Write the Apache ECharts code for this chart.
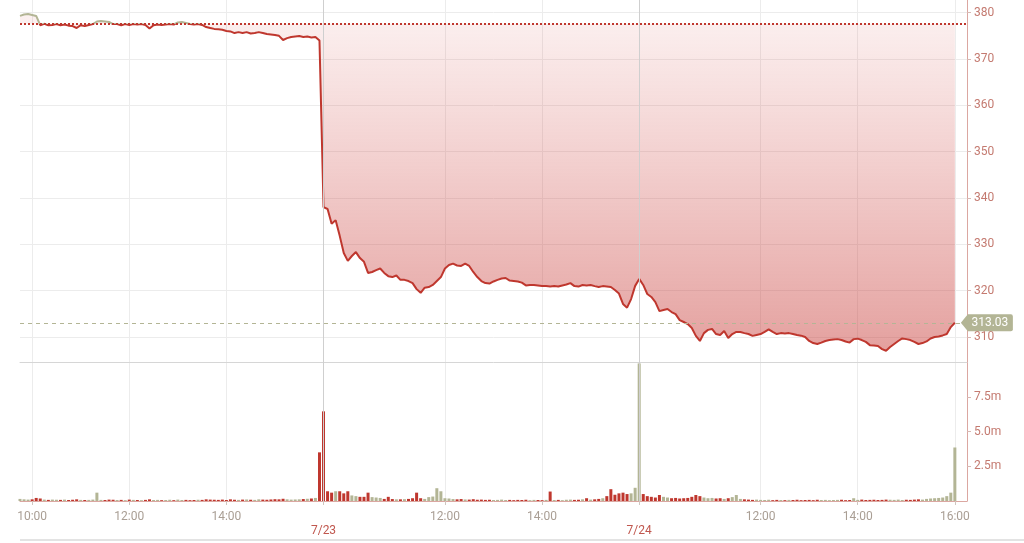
<!DOCTYPE html>
<html>
<head>
<meta charset="utf-8">
<script src="https://cdn.jsdelivr.net/npm/echarts@6/dist/echarts.min.js"></script>
<style>
  html, body { margin: 0; padding: 0; background: #fff; }
  #chart { width: 1024px; height: 543px; }
</style>
</head>
<body>
<div id="chart"></div>
<script>
// sessions (5 minute steps)
var days = ['7/22', '7/23', '7/24'];
var dayStart = ['09:45', '09:30', '09:30'];
var dayEnd = ['15:55', '15:55', '16:00'];
var padCats = ['7/24 16:05', '7/24 16:10', '7/24 16:15'];

// tick labels
var tickCats = ['7/22 10:00', '7/22 12:00', '7/22 14:00', '7/23 09:30', '7/23 12:00',
                '7/23 14:00', '7/24 09:30', '7/24 12:00', '7/24 14:00', '7/24 16:00'];
var tickTexts = ['10:00', '12:00', '14:00', '7/23', '12:00', '14:00', '7/24', '12:00', '14:00', '16:00'];
var dayCats = ['7/23 09:30', '7/24 09:30'];

var prevClose = 377.6;
var lastPrice = 313.03;

var day1Price = [379.3, 379.6, 379.7, 379.5, 379.3, 377.3, 377.6, 377.3, 377.35, 377.55,
  377.3, 377.45, 377.2, 377.1, 376.7, 377.3, 377.1, 377.35, 377.55, 378.1,
  378.2, 378.1, 378.0, 377.55, 377.55, 377.3, 377.55, 377.35, 377.55, 377.45,
  377.55, 377.35, 376.6, 377.3, 377.45, 377.35, 377.45, 377.55, 377.45, 377.9,
  378.0, 377.8, 377.55, 377.45, 377.55, 377.35, 376.9, 376.7, 376.5, 376.4,
  376.3, 376.05, 375.95, 375.6, 375.8, 375.6, 375.8, 375.5, 375.6, 375.8,
  375.6, 375.4, 375.3, 375.2, 375.0, 374.1, 374.5, 374.75, 374.85, 374.95,
  374.75, 374.85, 374.65, 374.75, 374.0];
var day2Price = [338.0, 337.6, 334.4, 335.2, 331.8, 328.1, 326.4, 327.45, 328.3, 327.0,
  326.2, 323.8, 324.0, 324.4, 324.75, 323.8, 323.1, 322.9, 323.25, 322.3,
  322.3, 322.05, 321.6, 320.3, 319.5, 320.6, 320.75, 321.2, 322.05, 322.9,
  324.75, 325.5, 325.8, 325.4, 325.3, 325.8, 325.3, 324.0, 322.9, 322.05,
  321.6, 321.5, 321.95, 322.3, 322.6, 322.7, 322.15, 322.05, 321.95, 321.7,
  321.1, 321.2, 321.2, 321.1, 320.95, 320.95, 320.85, 320.95, 320.85, 321.1,
  321.3, 321.6, 320.95, 320.85, 321.2, 321.1, 321.2, 320.95, 320.75, 320.95,
  320.85, 320.75, 320.1, 319.35, 317.1, 316.3, 318.15, 321.0];
var day3Price = [322.5, 321.2, 319.25, 318.6, 317.5, 315.55, 315.8, 316.0, 315.35, 314.9,
  313.6, 313.2, 312.75, 311.9, 310.2, 309.1, 310.8, 311.5, 311.7, 310.6,
  310.4, 311.25, 309.75, 310.6, 311.05, 311.05, 310.8, 310.6, 310.2, 310.4,
  310.6, 311.05, 311.6, 311.05, 310.6, 310.8, 310.7, 310.8, 310.6, 310.4,
  310.25, 309.95, 309.1, 308.65, 308.45, 308.75, 309.1, 309.3, 309.4, 309.5,
  309.3, 309.0, 308.75, 309.5, 309.6, 309.3, 308.9, 308.2, 308.1, 308.0,
  307.35, 307.0, 307.8, 308.45, 309.1, 309.65, 309.5, 309.3, 308.9, 308.45,
  308.65, 309.0, 309.65, 309.95, 310.05, 310.3, 310.6, 312.1, 313.03];

// volume in millions
var day1Vol = [0.15, 0.12, 0.1, 0.12, 0.22, 0.18, 0.1, 0.08, 0.1, 0.09,
  0.08, 0.1, 0.07, 0.09, 0.12, 0.08, 0.07, 0.08, 0.1, 0.6,
  0.08, 0.07, 0.1, 0.09, 0.07, 0.08, 0.06, 0.1, 0.08, 0.07,
  0.06, 0.08, 0.12, 0.07, 0.08, 0.06, 0.07, 0.09, 0.06, 0.1,
  0.07, 0.08, 0.06, 0.07, 0.09, 0.08, 0.12, 0.1, 0.09, 0.08,
  0.1, 0.07, 0.12, 0.09, 0.08, 0.1, 0.11, 0.09, 0.08, 0.12,
  0.1, 0.09, 0.11, 0.13, 0.12, 0.16, 0.12, 0.1, 0.11, 0.12,
  0.14, 0.16, 0.18, 0.22, 3.5];
var day2Vol = [6.45, 0.7, 0.6, 0.7, 0.7, 0.55, 0.7, 0.4, 0.35, 0.3,
  0.3, 0.6, 0.28, 0.25, 0.22, 0.15, 0.3, 0.14, 0.12, 0.12,
  0.13, 0.15, 0.2, 0.6, 0.2, 0.15, 0.28, 0.32, 0.92, 0.7,
  0.2, 0.18, 0.14, 0.12, 0.14, 0.11, 0.1, 0.13, 0.09, 0.1,
  0.08, 0.09, 0.07, 0.08, 0.1, 0.07, 0.08, 0.06, 0.08, 0.07,
  0.09, 0.06, 0.08, 0.07, 0.06, 0.08, 0.68, 0.07, 0.08, 0.06,
  0.09, 0.1, 0.08, 0.09, 0.12, 0.2, 0.1, 0.12, 0.15, 0.2,
  0.35, 0.85, 0.45, 0.55, 0.6, 0.5, 0.55, 0.95];
var day3Vol = [9.9, 0.5, 0.35, 0.3, 0.25, 0.43, 0.3, 0.25, 0.2, 0.22,
  0.18, 0.2, 0.22, 0.3, 0.43, 0.35, 0.25, 0.2, 0.22, 0.18,
  0.2, 0.15, 0.2, 0.28, 0.43, 0.15, 0.12, 0.1, 0.08, 0.1,
  0.08, 0.07, 0.09, 0.06, 0.08, 0.07, 0.06, 0.08, 0.07, 0.09,
  0.06, 0.07, 0.08, 0.06, 0.09, 0.07, 0.08, 0.06, 0.07, 0.08,
  0.09, 0.06, 0.07, 0.2, 0.08, 0.1, 0.07, 0.08, 0.09, 0.07,
  0.08, 0.1, 0.09, 0.08, 0.1, 0.07, 0.09, 0.08, 0.1, 0.12,
  0.1, 0.15, 0.18, 0.2, 0.22, 0.25, 0.35, 0.6, 3.85];

var red = '#bf372e';
var khaki = '#b3b595';
var font = 'Roboto, "Noto Sans", sans-serif';

function toMin(t) { var p = t.split(':'); return +p[0] * 60 + +p[1]; }
function pad(n) { return (n < 10 ? '0' : '') + n; }

var cats = [];
for (var d = 0; d < days.length; d++) {
  for (var m = toMin(dayStart[d]); m <= toMin(dayEnd[d]); m += 5) {
    cats.push(days[d] + ' ' + pad(Math.floor(m / 60)) + ':' + pad(m % 60));
  }
}
cats = cats.concat(padCats);

var price = day1Price.concat(day2Price, day3Price);
var vol = day1Vol.concat(day2Vol, day3Vol);

var volData = vol.map(function (v, i) {
  var before = i === 0 ? prevClose : price[i - 1];
  return { value: v, itemStyle: { color: price[i] >= before ? khaki : red } };
});

function isTick(idx, val) { return tickCats.indexOf(val) >= 0; }
function isDay(idx, val) { return dayCats.indexOf(val) >= 0; }

var dayLineStyle = { color: '#cfcfcf', width: 1, type: 'solid' };
function dayLineData() {
  return dayCats.map(function (c) { return { xAxis: c, lineStyle: dayLineStyle }; });
}

var chart = echarts.init(document.getElementById('chart'));

chart.setOption({
  animation: false,
  textStyle: { fontFamily: font },
  grid: [
    { left: 20, right: 57, top: 0, height: 362 },
    { left: 20, right: 57, top: 362, height: 139 }
  ],
  visualMap: {
    show: false, type: 'piecewise', seriesIndex: 0, dimension: 1,
    pieces: [
      { gt: 300, lte: prevClose, color: red },
      { gt: prevClose, lte: 400, color: khaki }
    ],
    outOfRange: { color: red }
  },
  xAxis: [
    {
      type: 'category', gridIndex: 0, data: cats, boundaryGap: false,
      axisLine: { show: true, lineStyle: { color: '#d6d6d6' } },
      axisTick: { show: false }, axisLabel: { show: false },
      splitLine: { show: true, interval: isTick, lineStyle: { color: '#ececec' } }
    },
    {
      type: 'category', gridIndex: 1, data: cats, boundaryGap: false,
      axisLine: { show: true, lineStyle: { color: '#dba7a1' } },
      axisTick: { show: true, interval: isTick, length: 4, lineStyle: { color: '#cfc6bf' } },
      splitLine: { show: true, interval: isTick, lineStyle: { color: '#ececec' } },
      axisLabel: {
        interval: isTick, margin: 9, color: '#a99e94', fontSize: 12,
        formatter: function (val) {
          var k = tickCats.indexOf(val);
          if (k < 0) return '';
          if (dayCats.indexOf(val) >= 0) return '\n{d|' + tickTexts[k] + '}';
          return tickTexts[k];
        },
        lineHeight: 14,
        rich: { d: { color: '#c0574e', fontSize: 12, lineHeight: 14 } }
      }
    },
    {
      type: 'category', gridIndex: 1, data: cats, boundaryGap: false,
      axisLine: { show: false }, axisLabel: { show: false },
      axisTick: { show: true, interval: isDay, length: 19, lineStyle: { color: '#bdbdbd', type: [2, 2] } }
    }
  ],
  yAxis: [
    {
      type: 'value', gridIndex: 0, position: 'right', min: 304.56, max: 382.74,
      axisLine: { show: true, lineStyle: { color: '#dba7a1' } },
      axisTick: { show: true, length: 4, customValues: [310, 320, 330, 340, 350, 360, 370, 380], lineStyle: { color: '#d8b8b3' } },
      axisLabel: { customValues: [310, 320, 330, 340, 350, 360, 370, 380], color: '#c47a70', fontSize: 12, margin: 7 },
      splitLine: { show: true, lineStyle: { color: '#ececec' } }
    },
    {
      type: 'value', gridIndex: 1, position: 'right', min: 0, max: 10,
      axisLine: { show: true, lineStyle: { color: '#dba7a1' } },
      axisTick: { show: true, length: 4, customValues: [2.5, 5, 7.5], lineStyle: { color: '#d8b8b3' } },
      axisLabel: {
        customValues: [2.5, 5, 7.5], color: '#c47a70', fontSize: 12, margin: 7,
        formatter: function (v) { return v.toFixed(1) + 'm'; }
      },
      splitLine: { show: false }
    }
  ],
  series: [
    {
      type: 'line', xAxisIndex: 0, yAxisIndex: 0, data: price,
      showSymbol: false, symbol: 'none',
      lineStyle: { width: 2 },
      areaStyle: {
        origin: prevClose,
        color: new echarts.graphic.LinearGradient(0, 0, 0, 1, [
          { offset: 0, color: 'rgba(212, 80, 76, 0.12)' },
          { offset: 1, color: 'rgba(198, 56, 52, 0.68)' }
        ])
      },
      markLine: {
        silent: true, symbol: ['none', 'none'], animation: false,
        label: { show: false },
        data: [
          { yAxis: prevClose, lineStyle: { color: red, width: 2, type: [2, 2] } },
          { yAxis: lastPrice, lineStyle: { color: khaki, width: 1, type: [4, 4] } }
        ].concat(dayLineData())
      },
      markPoint: {
        silent: true, animation: false,
        symbol: 'path://M0,8 L7,0 L50,0 Q52,0 52,2 L52,14 Q52,16 50,16 L7,16 Z',
        symbolSize: [52, 17], symbolOffset: [32, 0],
        itemStyle: { color: khaki },
        label: { show: true, color: '#fff', fontSize: 12, offset: [3, 0], formatter: String(lastPrice) },
        data: [{ coord: [cats[price.length - 1], lastPrice] }]
      }
    },
    {
      type: 'bar', xAxisIndex: 1, yAxisIndex: 1, data: volData,
      barWidth: 3, barGap: '-100%',
      markLine: {
        silent: true, symbol: ['none', 'none'], animation: false,
        label: { show: false },
        data: dayLineData()
      }
    }
  ],
  graphic: [
    { type: 'line', shape: { x1: 20, y1: 540, x2: 1024, y2: 540 }, style: { stroke: '#e3e3e3', lineWidth: 2 }, silent: true }
  ]
});
</script>
</body>
</html>
